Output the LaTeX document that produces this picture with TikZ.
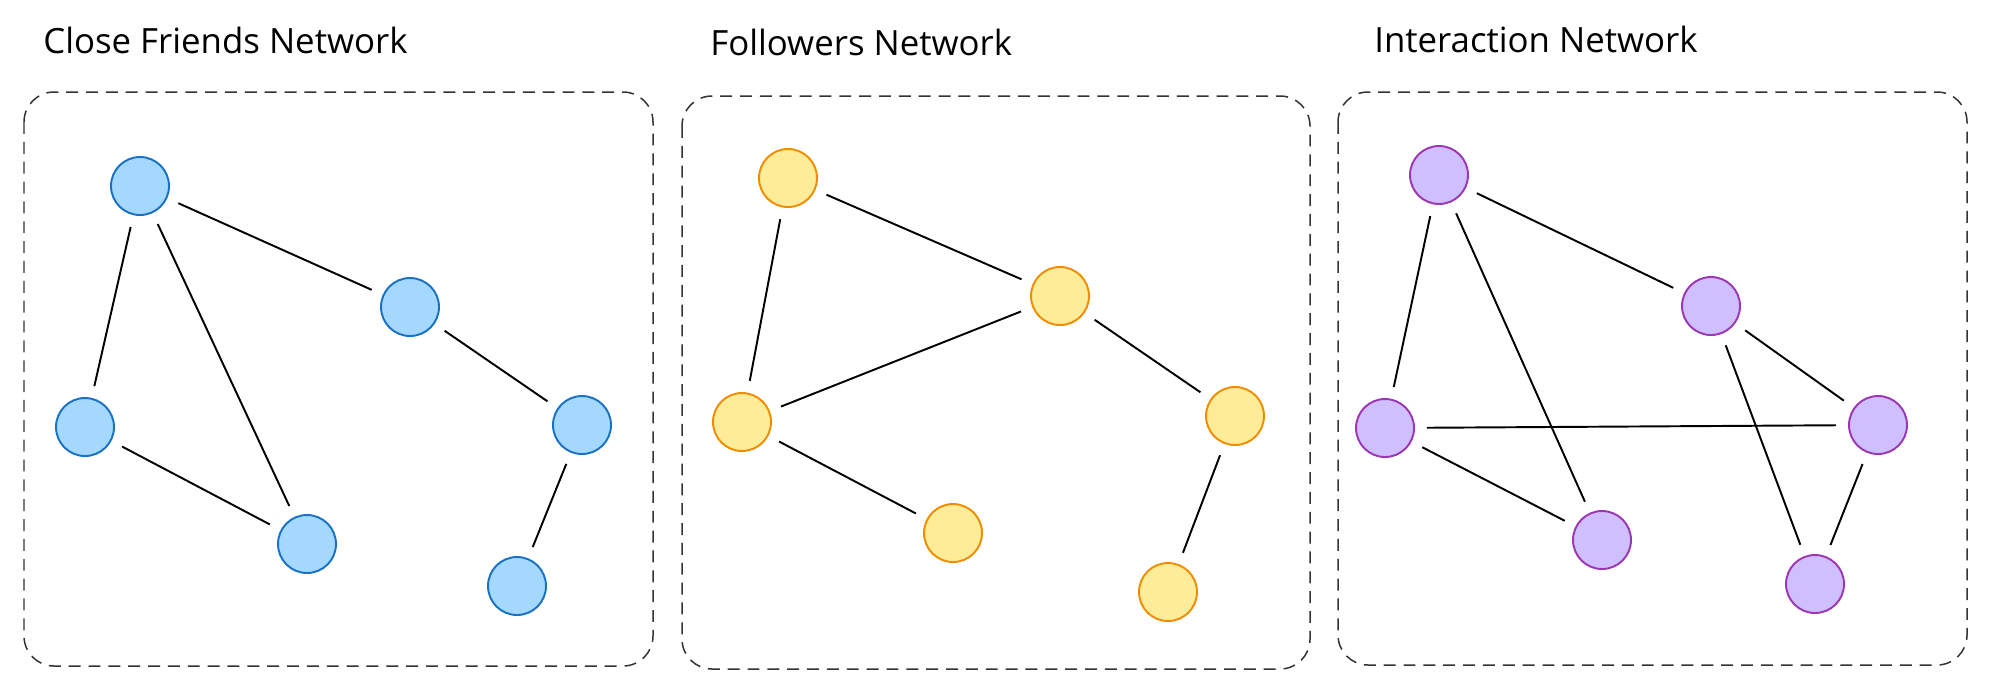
\documentclass[tikz,border=0pt]{standalone}
\usepackage{fontspec}
\setmainfont{Open Sans}
\definecolor{bluefill}{HTML}{A5D8FF}
\definecolor{bluedraw}{HTML}{1971C2}
\definecolor{yellowfill}{HTML}{FFEC99}
\definecolor{yellowdraw}{HTML}{F08C00}
\definecolor{purplefill}{HTML}{D0BFFF}
\definecolor{purpledraw}{HTML}{9C36B5}
\begin{document}
\begin{tikzpicture}[x=0.02cm, y=-0.02cm,
    person/.style={circle, minimum size=1.16cm, inner sep=0pt, line width=1.1pt},
    friend/.style={person, draw=bluedraw, fill=bluefill},
    follower/.style={person, draw=yellowdraw, fill=yellowfill},
    contact/.style={person, draw=purpledraw, fill=purplefill},
    link/.style={line width=1.1pt, shorten <=0.24cm, shorten >=0.24cm},
    frame/.style={draw=black!80, line width=0.85pt, dash pattern=on 6.8pt off 4.5pt, rounded corners=0.6cm},
    heading/.style={anchor=base west, inner sep=0pt, font=\fontsize{19.8}{24}\selectfont}]
     \useasboundingbox (0,0) rectangle (2000,681);

     % close friends
     \node[heading] (cftitle) at (43,53) {Close Friends Network};
     \draw[frame] (24,92) rectangle (653,666);
     \node[friend] (cfa) at (140,186) {};
     \node[friend] (cfb) at (410,307) {};
     \node[friend] (cfc) at (85,427) {};
     \node[friend] (cfd) at (582,425) {};
     \node[friend] (cfe) at (307,544) {};
     \node[friend] (cff) at (517,586) {};
     \draw[link] (cfa) -- (cfb);
     \draw[link] (cfa) -- (cfc);
     \draw[link] (cfa) -- (cfe);
     \draw[link] (cfb) -- (cfd);
     \draw[link] (cfc) -- (cfe);
     \draw[link] (cfd) -- (cff);

     % followers
     \node[heading] (fltitle) at (710,55) {Followers Network};
     \draw[frame] (682,96) rectangle (1310,669);
     \node[follower] (fla) at (788,178) {};
     \node[follower] (flb) at (1060,296) {};
     \node[follower] (flc) at (742,422) {};
     \node[follower] (fld) at (1235,416) {};
     \node[follower] (fle) at (953,533) {};
     \node[follower] (flf) at (1168,592) {};
     \draw[link] (fla) -- (flb);
     \draw[link] (fla) -- (flc);
     \draw[link] (flc) -- (flb);
     \draw[link] (flb) -- (fld);
     \draw[link] (flc) -- (fle);
     \draw[link] (fld) -- (flf);

     % interaction
     \node[heading] (intitle) at (1374,52) {Interaction Network};
     \draw[frame] (1338,92) rectangle (1967,665);
     \node[contact] (ina) at (1439,175) {};
     \node[contact] (inb) at (1711,306) {};
     \node[contact] (inc) at (1385,428) {};
     \node[contact] (ind) at (1878,425) {};
     \node[contact] (ine) at (1602,540) {};
     \node[contact] (inf) at (1815,584) {};
     \draw[link] (ina) -- (inb);
     \draw[link] (ina) -- (inc);
     \draw[link] (ina) -- (ine);
     \draw[link] (inc) -- (ind);
     \draw[link] (inc) -- (ine);
     \draw[link] (inb) -- (ind);
     \draw[link] (inb) -- (inf);
     \draw[link] (ind) -- (inf);
\end{tikzpicture}
\end{document}
